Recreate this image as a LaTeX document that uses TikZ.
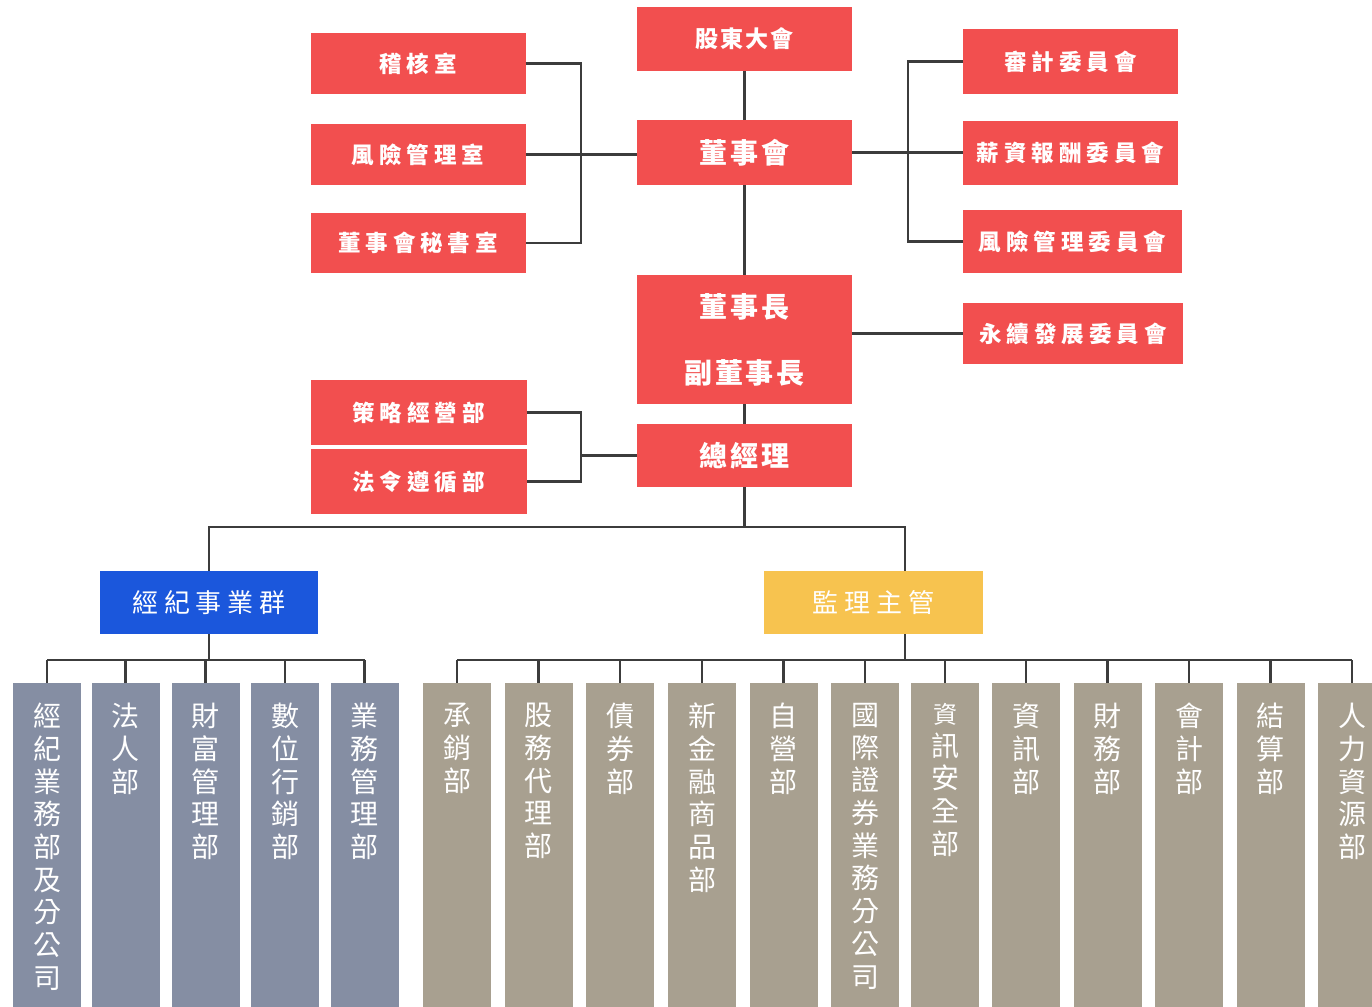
\documentclass[tikz,border=0pt]{standalone}
\usepackage{fontspec}
\usepackage{xcolor}
\usepackage{tikz}
\usetikzlibrary{positioning}

\newfontfamily\cjk{Noto Sans CJK TC}
\newfontfamily\cjkwide[LetterSpace=22]{Noto Sans CJK TC}
\newfontfamily\cjkmid[LetterSpace=10]{Noto Sans CJK TC}

\definecolor{boxred}{HTML}{F24F4F}
\definecolor{grpblue}{HTML}{1B57DC}
\definecolor{grpyellow}{HTML}{F7C34F}
\definecolor{colslate}{HTML}{858EA3}
\definecolor{coltan}{HTML}{A8A090}
\definecolor{linegray}{HTML}{3C3C3C}

\tikzset{
  redbox/.style={fill=boxred, text=white, minimum width=215pt, minimum height=62pt,
    inner sep=0pt, font=\cjkwide\bfseries\fontsize{22.5}{27}\selectfont},
  mainbox/.style={redbox, minimum height=65pt, font=\cjkmid\bfseries\fontsize{28}{33}\selectfont},
  grpbox/.style={minimum width=218pt, minimum height=63pt, inner sep=0pt, text=white,
    font=\cjkwide\fontsize{26}{30}\selectfont},
  column/.style={anchor=north, minimum width=68pt, minimum height=330pt, inner sep=0pt},
  coltext/.style={anchor=north, inner sep=0pt, text=white, align=center,
    font=\cjk\fontsize{28}{32.7}\selectfont},
  link/.style={draw=linegray, line width=2.5pt},
}

\begin{document}
\begin{tikzpicture}[x=1pt, y=-1pt]
  \useasboundingbox (0,0) rectangle (1372,1006);
  \clip (0,0) rectangle (1372,1006);

  % Board level
  \node[mainbox, minimum height=64pt, font=\cjkmid\bfseries\fontsize{23}{27}\selectfont] (agm) at (744.5,39) {股東大會};
  \node[mainbox] (board) at (744.5,152.5) {董事會};
  \node[mainbox, minimum height=129pt, align=center, font=\cjkmid\bfseries\fontsize{28}{66}\selectfont] (chair) at (744.5,339.5) {董事長\\副董事長};
  \node[mainbox, minimum height=63pt] (ceo) at (744.5,455.5) {總經理};

  % Units under the board
  \node[redbox, minimum height=61pt] (audit) at (418,63.5) {稽核室};
  \node[redbox, minimum height=61pt] (riskroom) at (418,154.5) {風險管理室};
  \node[redbox, minimum height=60pt] (secroom) at (418,243) {董事會秘書室};

  % Committees
  \node[redbox, minimum height=65pt] (auditc) at (1070.5,61.5) {審計委員會};
  \node[redbox, minimum height=64pt] (pay) at (1070.5,153) {薪資報酬委員會};
  \node[redbox, minimum width=219pt, minimum height=63pt] (riskc) at (1072.5,241.5) {風險管理委員會};
  \node[redbox, minimum width=220pt, minimum height=61pt] (esg) at (1073,333.5) {永續發展委員會};

  % Units under the president
  \node[redbox, minimum width=216pt, minimum height=65pt] (strat) at (418.5,412.5) {策略經營部};
  \node[redbox, minimum width=216pt, minimum height=65pt] (legal) at (418.5,481.5) {法令遵循部};

  % Groups
  \node[grpbox, fill=grpblue] (brk) at (209,602.5) {經紀事業群};
  \node[grpbox, fill=grpyellow, minimum width=219pt] (comp) at (873.5,602.5) {監理主管};

  % Departments
  \foreach \name/\x/\txt in {b1/47/{經\\紀\\業\\務\\部\\及\\分\\公\\司}, b2/125.5/{法\\人\\部},
      b3/205.5/{財\\富\\管\\理\\部}, b4/285/{數\\位\\行\\銷\\部}, b5/364.5/{業\\務\\管\\理\\部}} {
    \node[column, fill=colslate] (\name) at (\x,683) {};
    \node[coltext] (\name-t) at (\x,703) {\txt};
  }
  \foreach \name/\x/\txt in {r1/457/{承\\銷\\部}, r2/538.5/{股\\務\\代\\理\\部}, r3/620/{債\\券\\部},
      r4/702/{新\\金\\融\\商\\品\\部}, r5/783.5/{自\\營\\部}, r6/865/{國\\際\\證\\券\\業\\務\\分\\公\\司},
      r7/945/{\fontsize{24}{28}\selectfont 資\\訊\\安\\全\\部}, r8/1026/{資\\訊\\部}, r9/1107.5/{財\\務\\部},
      r10/1189/{會\\計\\部}, r11/1270.5/{結\\算\\部}, r12/1352/{人\\力\\資\\源\\部}} {
    \node[column, fill=coltan] (\name) at (\x,683) {};
    \node[coltext] (\name-t) at (\x,703) {\txt};
  }

  % Helper coordinates for the brackets and bars
  \coordinate (lbr) at (581,0);
  \coordinate (rbr) at (908,0);
  \coordinate (hbar) at (0,527);
  \coordinate (cx) at (905,0);
  \coordinate (lbar) at (0,660);

  % Main spine
  \draw[link] (agm.south) -- (board.north);
  \draw[link] (board.south) -- (chair.north);
  \draw[link] (chair.south) -- (ceo.north);

  % Left bracket of the board
  \draw[link] (audit.east) -- (audit.east -| lbr) -- (secroom.east -| lbr) -- (secroom.east);
  \draw[link] (riskroom.east) -- (riskroom.east -| board.west);

  % Right bracket of the board
  \draw[link] (auditc.west) -- (auditc.west -| rbr) -- (riskc.west -| rbr) -- (riskc.west);
  \draw[link] (board.east) -- (board.east -| pay.west);
  \draw[link] (esg.west) -- (esg.west -| chair.east);

  % President bracket
  \draw[link] (strat.east) -- (strat.east -| lbr) -- (legal.east -| lbr) -- (legal.east);
  \draw[link] (ceo.west) -- (ceo.west -| lbr);

  % Down to the groups
  \draw[link] (ceo.south) -- (ceo.south |- hbar);
  \draw[link] (brk.north) |- (hbar -| cx) -- (cx |- comp.north);
  \draw[link] (brk.south) -- (brk.south |- lbar);
  \draw[link] (comp.south -| cx) -- (cx |- lbar);

  % Department bars
  \draw[link] (b1.north |- lbar) -- (b5.north |- lbar);
  \draw[link] (r1.north |- lbar) -- (r12.north |- lbar);
  \foreach \name in {b1,b2,b3,b4,b5,r1,r2,r3,r4,r5,r6,r7,r8,r9,r10,r11,r12}
    \draw[link] (\name.north) -- (\name.north |- lbar);
\end{tikzpicture}
\end{document}
